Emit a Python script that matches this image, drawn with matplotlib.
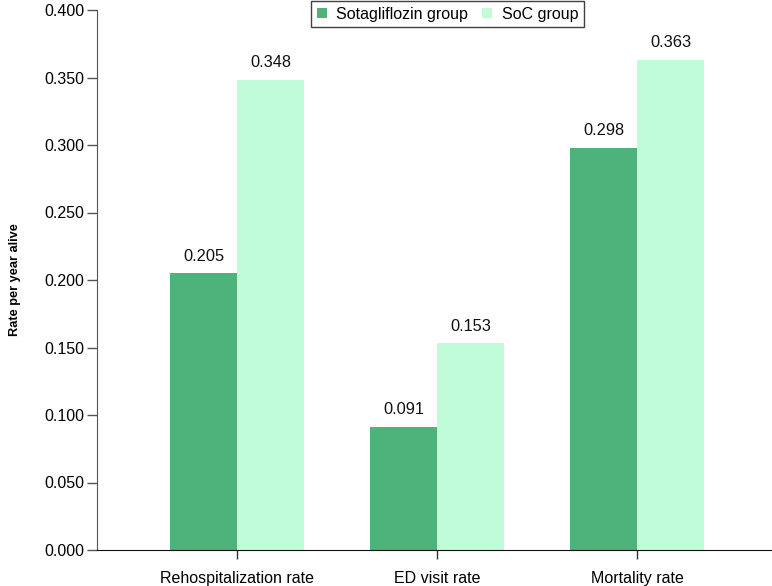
import matplotlib
matplotlib.use("Agg")
import matplotlib.pyplot as plt
import numpy as np

plt.rcParams['font.family'] = ['Liberation Sans', 'DejaVu Sans']

categories = ["Rehospitalization rate", "ED visit rate", "Mortality rate"]
series_names = ["Sotagliflozin group", "SoC group"]
sota = [0.205, 0.091, 0.298]
soc = [0.348, 0.153, 0.363]
yticks = [0.0, 0.05, 0.1, 0.15, 0.2, 0.25, 0.3, 0.35, 0.4]

colors = ["#4DB37B", "#C0FCD8"]

fig = plt.figure(figsize=(7.72, 5.86), dpi=100)
ax = fig.add_axes([97/772, 1 - 550/586, (772 - 97)/772, 540/586])

x = np.arange(len(categories))
w = 0.335
b1 = ax.bar(x - w/2, sota, w, color=colors[0], label=series_names[0])
b2 = ax.bar(x + w/2, soc, w, color=colors[1], label=series_names[1])

for bars, vals in ((b1, sota), (b2, soc)):
    for r, v in zip(bars, vals):
        ax.annotate(f"{v:.3f}", (r.get_x() + r.get_width()/2, v),
                    xytext=(0, 7), textcoords="offset points",
                    ha="center", va="bottom", fontsize=11.8, color="#111111")

ax.set_xlim(-0.7, 2.675)
ax.set_ylim(0, 0.4)
ax.set_yticks(yticks)
ax.set_yticklabels([f"{t:.3f}" for t in yticks], fontsize=11.5)
ax.set_xticks(x)
ax.set_xticklabels(categories, fontsize=11.5)
ax.tick_params(axis='y', direction='out', length=7.5, width=1, color="#555555", pad=1.5)
ax.tick_params(axis='x', direction='out', length=6.5, width=1, color="#333333", pad=8.5)

for s in ("top", "right"):
    ax.spines[s].set_visible(False)
ax.spines["left"].set_color("#555555")
ax.spines["bottom"].set_color("#111111")

ax.set_ylabel("Rate per year alive", fontsize=9.2, fontweight="bold", labelpad=17)

leg = fig.legend(loc="upper center", bbox_to_anchor=(447.5/772, 1 - 1/586), ncol=2,
                 fontsize=11.5, frameon=True, fancybox=False, edgecolor="#111111",
                 handlelength=0.6, handleheight=0.6, handletextpad=0.6,
                 columnspacing=0.9, borderpad=0.35, borderaxespad=0)
leg.get_frame().set_linewidth(1.0)

fig.savefig("out.png", dpi=100)
